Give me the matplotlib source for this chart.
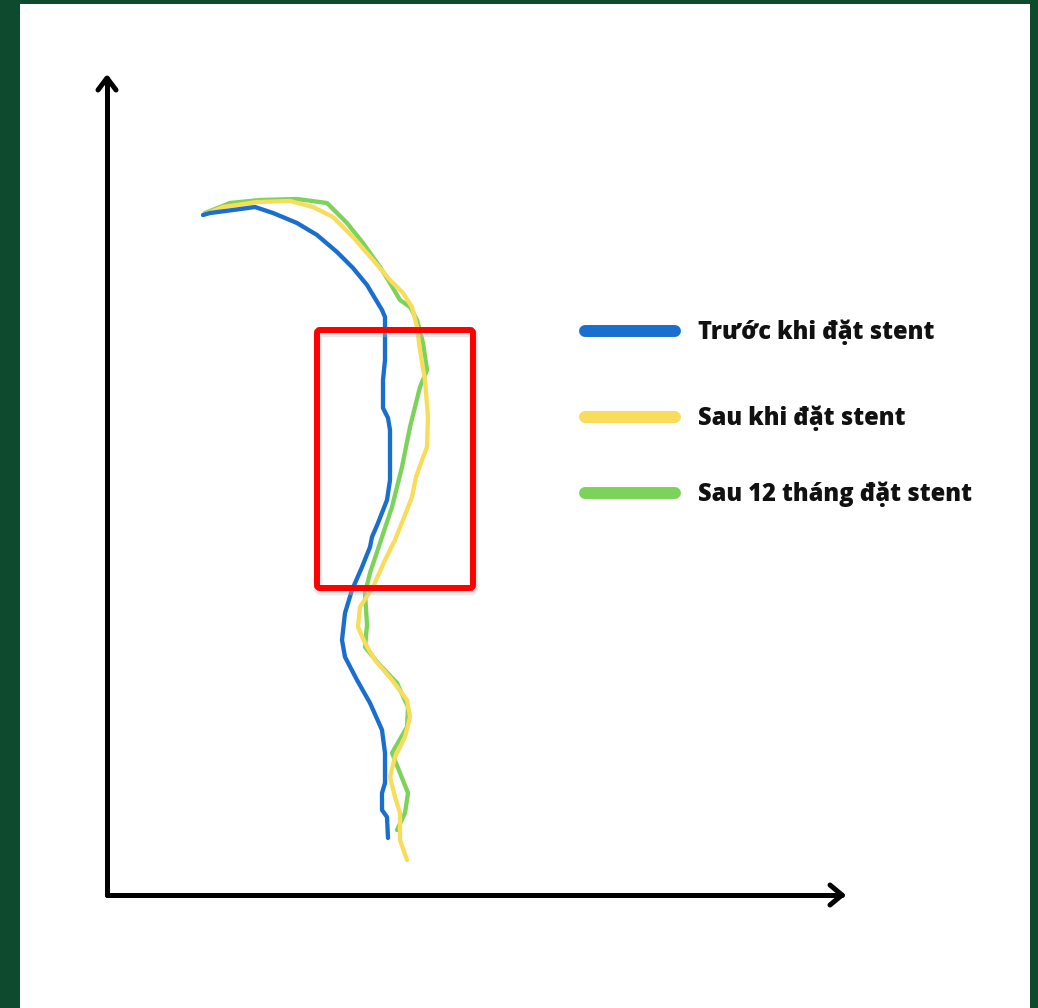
import matplotlib.pyplot as plt
from matplotlib.patches import Rectangle, FancyBboxPatch

# traced curve points (x right from the axis corner, y up from the axis corner)
blue_x = [96, 103, 126, 148, 166, 190, 210, 230, 246, 260, 275, 278, 278,
          276, 276, 281, 283, 283, 280, 271, 265, 263, 255, 245,
          238, 235, 238, 250, 263, 275, 278, 278, 275, 275, 280, 281]
blue_y = [680, 682, 685, 688, 682, 672, 660, 643, 627, 610, 585, 578, 535,
          515, 487, 477, 465, 415, 395, 372, 358, 348, 328, 305,
          282, 255, 238, 215, 192, 165, 142, 112, 102, 85, 78, 57]

yellow_x = [96, 116, 150, 183, 206, 226, 246, 266, 283, 296, 305, 310, 313,
            318, 321, 320, 314, 309, 305, 296, 288, 278, 266,
            253, 251, 258, 268, 285, 300, 303, 298, 288, 283, 288, 293, 293, 300]
yellow_y = [680, 688, 693, 694, 688, 678, 658, 635, 615, 602, 588, 568, 545,
            515, 478, 448, 432, 418, 398, 375, 355, 335, 308,
            288, 268, 252, 235, 215, 195, 178, 158, 138, 118, 98, 82, 55, 35]

green_x = [98, 123, 153, 190, 220, 225, 240, 256, 273, 283, 293, 303, 310, 316,
           320, 313, 303, 295, 285, 275, 263, 258, 260, 258, 271,
           290, 301, 300, 285, 293, 301, 298, 290]
green_y = [682, 692, 695, 696, 692, 687, 672, 652, 628, 612, 595, 588, 575, 552,
           525, 508, 468, 428, 388, 358, 322, 302, 270, 248, 232,
           212, 188, 168, 142, 122, 102, 82, 65]

labels = ['Trước khi đặt stent', 'Sau khi đặt stent', 'Sau 12 tháng đặt stent']
colors = ['#1a6fce', '#f8dc5c', '#7cd35c']

fig = plt.figure(figsize=(10.38, 10.08), dpi=100)
fig.patch.set_facecolor('#0d4a2e')

ax = fig.add_axes([0, 0, 1, 1])
ax.set_xlim(-107, 931)
ax.set_ylim(-113, 895)
ax.axis('off')

# white panel
ax.add_patch(Rectangle((20 / 1038, 0), 1010 / 1038, 1004 / 1008,
                       transform=fig.transFigure, facecolor='white',
                       edgecolor='none', zorder=0))

# hand-drawn style axes with arrows
akw = dict(color='black', lw=3.6, solid_capstyle='round', solid_joinstyle='round')
ax.plot([0, 0], [0, 817], **akw)
ax.plot([0, 735], [0, 0], **akw)
ax.plot([-9, 0, 9], [805, 817, 805], **akw)
ax.plot([723, 735, 723], [10, 0, -10], **akw)

lw = 3.1
ax.plot(green_x, green_y, color=colors[2], lw=lw, solid_capstyle='round',
        solid_joinstyle='round', zorder=3)
ax.plot(yellow_x, yellow_y, color=colors[1], lw=lw, solid_capstyle='round',
        solid_joinstyle='round', zorder=4)
ax.plot(blue_x, blue_y, color=colors[0], lw=lw, solid_capstyle='round',
        solid_joinstyle='round', zorder=5)

# red highlight box with soft shadow
ax.add_patch(FancyBboxPatch((211, 304), 156, 258, boxstyle='round,pad=0,rounding_size=3',
                            facecolor='none', edgecolor='#bbbbbb', lw=6, alpha=0.35, zorder=5))
ax.add_patch(FancyBboxPatch((210, 307), 156, 258, boxstyle='round,pad=0,rounding_size=3',
                            facecolor='none', edgecolor='#ff0000', lw=4.3, zorder=6))

# legend
leg_y = [564, 478, 402]
for lab, c, yy in zip(labels, colors, leg_y):
    ax.plot([478, 568], [yy, yy], color=c, lw=8.6, solid_capstyle='round')
    ax.text(591, yy - 1, lab, fontsize=17, fontweight='heavy', family='Open Sans',
            va='center', ha='left', color='#111111')

fig.savefig('out.png', dpi=100, facecolor=fig.get_facecolor())
